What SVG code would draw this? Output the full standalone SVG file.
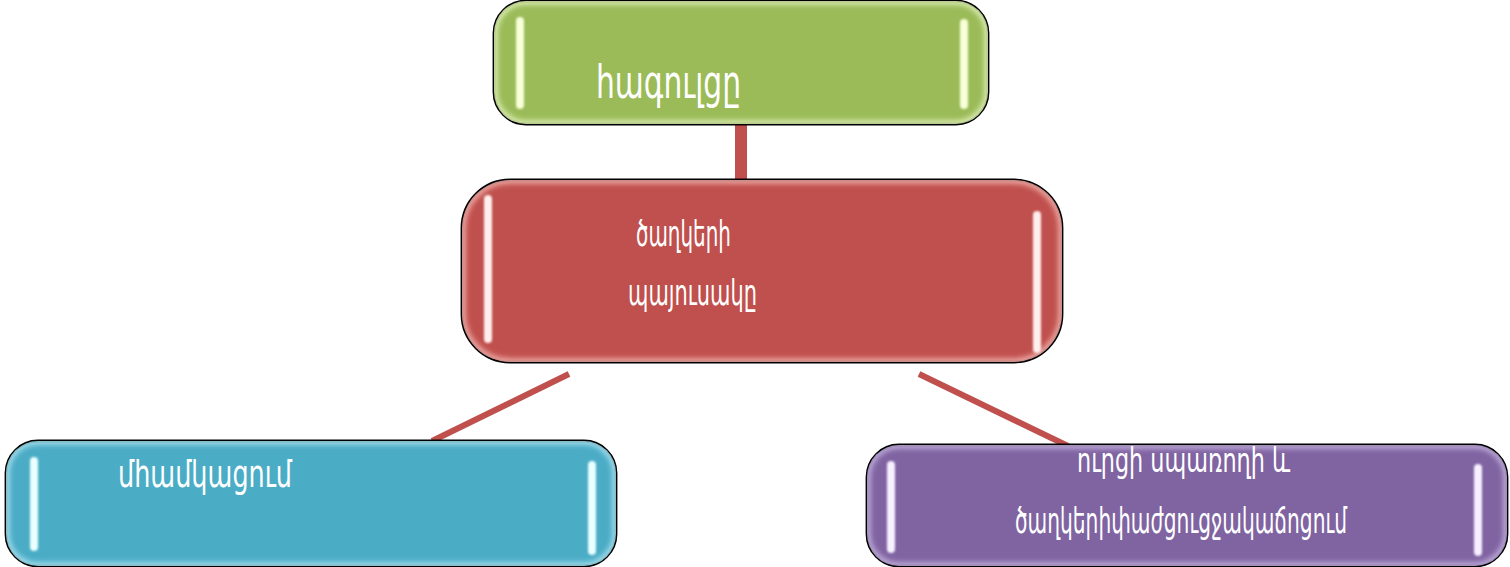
<svg xmlns="http://www.w3.org/2000/svg" width="1510" height="567" viewBox="0 0 1510 567">
<style>
.box{stroke:#000;stroke-width:2.8}
.lbl{fill:#fff;font-family:"DejaVu Sans Condensed","DejaVu Sans","Noto Sans",sans-serif}
.conn{stroke:#C0504D;fill:none}
.hl{filter:url(#blur)}
.edge{fill:none;stroke-width:8;filter:url(#blur2)}
</style>
<defs>
<filter id="blur" x="-50%" y="-10%" width="200%" height="120%"><feGaussianBlur stdDeviation="1.3"/></filter>
<filter id="blur2" x="-5%" y="-10%" width="110%" height="120%"><feGaussianBlur stdDeviation="2.5"/></filter>
<clipPath id="cTop"><rect x="494" y="1" width="494" height="123" rx="32"/></clipPath>
<clipPath id="cMid"><rect x="462" y="180" width="600" height="182" rx="48"/></clipPath>
<clipPath id="cBL"><rect x="6" y="441" width="610" height="125" rx="32"/></clipPath>
<clipPath id="cBR"><rect x="867" y="445" width="640" height="121" rx="32"/></clipPath>
</defs>
<rect width="1510" height="567" fill="#fff"/>
<g id="connectors">
<line class="conn" x1="741" y1="122" x2="741" y2="190" stroke-width="12"/>
<line class="conn" x1="569" y1="374" x2="432" y2="441" stroke-width="6"/>
<line class="conn" x1="919" y1="374" x2="1068" y2="446" stroke-width="6"/>
</g>
<g id="node-top">
<rect class="box" x="494" y="1" width="494" height="123" rx="32" fill="#9BBB59"/>
<rect class="edge" x="494" y="1" width="494" height="123" rx="32" stroke="#d4e8a8" clip-path="url(#cTop)"/>
<rect class="hl" x="516" y="17" width="8" height="92" rx="4" fill="#f8ffd8"/>
<rect class="hl" x="960" y="19" width="8" height="90" rx="4" fill="#f8ffd8"/>
<text class="lbl" x="596" y="98" font-size="46" textLength="145" lengthAdjust="spacingAndGlyphs">հագուլցը</text>
</g>
<g id="node-mid">
<rect class="box" x="462" y="180" width="600" height="182" rx="48" fill="#C0504D"/>
<rect class="edge" x="462" y="180" width="600" height="182" rx="48" stroke="#e8a09c" clip-path="url(#cMid)"/>
<rect class="hl" x="484" y="195" width="8" height="148" rx="4" fill="#fff0ee"/>
<rect class="hl" x="1033" y="211" width="8" height="142" rx="4" fill="#fff0ee"/>
<text class="lbl" x="636" y="246" font-size="36" textLength="95" lengthAdjust="spacingAndGlyphs">ծաղկերի</text>
<text class="lbl" x="628" y="305" font-size="36" textLength="129" lengthAdjust="spacingAndGlyphs">պայուսակը</text>
</g>
<g id="node-bl">
<rect class="box" x="6" y="441" width="610" height="125" rx="32" fill="#4BACC6"/>
<rect class="edge" x="6" y="441" width="610" height="125" rx="32" stroke="#9ad8e8" clip-path="url(#cBL)"/>
<rect class="hl" x="30" y="457" width="8" height="94" rx="4" fill="#eaffff"/>
<rect class="hl" x="588" y="461" width="8" height="94" rx="4" fill="#eaffff"/>
<text class="lbl" x="118" y="487" font-size="38" textLength="174" lengthAdjust="spacingAndGlyphs">մհամկացում</text>
</g>
<g id="node-br">
<rect class="box" x="867" y="445" width="640" height="121" rx="32" fill="#8064A2"/>
<rect class="edge" x="867" y="445" width="640" height="121" rx="32" stroke="#b8a4d4" clip-path="url(#cBR)"/>
<rect class="hl" x="887" y="461" width="8" height="92" rx="4" fill="#f8f0ff"/>
<rect class="hl" x="1474" y="464" width="8" height="92" rx="4" fill="#f8f0ff"/>
<text class="lbl" x="1077" y="472" font-size="34" textLength="213" lengthAdjust="spacingAndGlyphs">ուրցի սպառողի և</text>
<text class="lbl" x="1015" y="533" font-size="36" textLength="332" lengthAdjust="spacingAndGlyphs">ծաղկերիփաժցուցջակաճոցում</text>
</g>
</svg>
